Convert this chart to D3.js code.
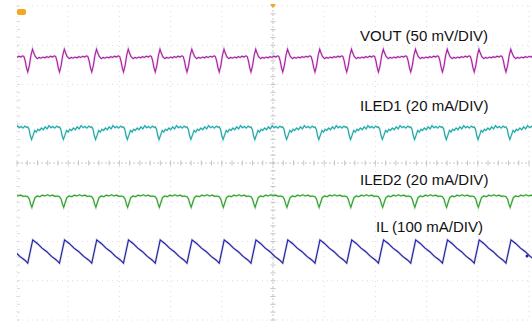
<!DOCTYPE html>
<html><head><meta charset="utf-8">
<script src="https://cdn.jsdelivr.net/npm/d3@7"></script>
<style>html,body{margin:0;padding:0;background:#fff;}svg{display:block;}</style>
</head><body>
<svg id="c" width="532" height="322"></svg>
<script>
// ---- data (divisions) ----
const xTicks = [0,1,2,3,4,5,6,7,8,9,10];
const yTicks = [-4,-3,-2,-1,0,1,2,3,4];
// switching instants (IL valley / VOUT dip), in horizontal divisions
const switchTimes = [-0.41,0.21,0.83,1.46,2.08,2.70,3.32,3.95,4.57,5.19,5.82,6.44,7.06,7.69,8.31,8.93,9.55,10.18];
// one switching period of each trace: phase (0..1) and level (divisions)
const voutPhase = [0,0.05,0.10,0.15,0.19,0.24,0.30,0.36,0.42,0.48,0.54,0.60,0.66,0.72,0.78,0.84,0.88,0.92,0.96];
const voutLevel = [2.32,2.48,2.74,2.90,2.80,2.71,2.66,2.69,2.67,2.70,2.68,2.71,2.69,2.72,2.70,2.73,2.71,2.60,2.43];
const iled1Phase = [0,0.04,0.08,0.12,0.17,0.22,0.27,0.32,0.37,0.43,0.49,0.55,0.61,0.67,0.73,0.79,0.85,0.91,0.96];
const iled1Level = [0.92,0.86,0.70,0.60,0.71,0.83,0.79,0.86,0.83,0.89,0.85,0.92,0.87,0.95,0.90,0.93,0.89,0.94,0.91];
const iled2Phase = [0,0.05,0.09,0.13,0.18,0.23,0.30,0.38,0.46,0.54,0.62,0.70,0.78,0.86,0.93];
const iled2Level = [-0.86,-0.92,-1.04,-1.13,-1.00,-0.88,-0.84,-0.86,-0.82,-0.84,-0.81,-0.84,-0.82,-0.85,-0.84];
const ilPhase = [0,0.157,0.30,0.45,0.60,0.75,0.90];
const ilLevel = [-2.55,-1.96,-2.05,-2.17,-2.26,-2.38,-2.47];
const labels = ["VOUT (50 mV/DIV)","ILED1 (20 mA/DIV)","ILED2 (20 mA/DIV)","IL (100 mA/DIV)"];

const svg = d3.select("#c");
const x = d3.scaleLinear().domain([0,10]).range([17,529]);
const y = d3.scaleLinear().domain([-4,4]).range([320,6]);

// grid
const g = svg.append("g");
g.selectAll(".vg").data(xTicks).enter().append("line")
 .attr("x1",d=>x(d)).attr("x2",d=>x(d)).attr("y1",y(4)).attr("y2",y(-4))
 .attr("stroke",d=>d===5?"#c8c8c8":"#dedede").attr("stroke-width",1)
 .attr("stroke-dasharray",d=>d===5?"2,2":"1,4");
g.selectAll(".hg").data(yTicks).enter().append("line")
 .attr("y1",d=>y(d)).attr("y2",d=>y(d)).attr("x1",x(0)).attr("x2",x(10))
 .attr("stroke",d=>d===0?"#c8c8c8":"#dedede").attr("stroke-width",1)
 .attr("stroke-dasharray",d=>d===0?"2,2":"1,4");
// minor ticks on centre lines and left edge
const minorX = d3.range(0,10.01,0.2), minorY = d3.range(-4,4.01,0.2);
g.selectAll(".mx").data(minorX).enter().append("line")
 .attr("x1",d=>x(d)).attr("x2",d=>x(d)).attr("y1",y(0)-2.5).attr("y2",y(0)+2.5)
 .attr("stroke","#c4c4c4");
g.selectAll(".my").data(minorY).enter().append("line")
 .attr("y1",d=>y(d)).attr("y2",d=>y(d)).attr("x1",x(5)-2.5).attr("x2",x(5)+2.5)
 .attr("stroke","#c4c4c4");
g.selectAll(".ml").data(minorY).enter().append("line")
 .attr("y1",d=>y(d)).attr("y2",d=>y(d)).attr("x1",x(0)).attr("x2",x(0)+3)
 .attr("stroke","#dadada");

// traces
svg.append("clipPath").attr("id","cp").append("rect")
 .attr("x",x(0)).attr("y",0).attr("width",x(10)-x(0)+3).attr("height",322);
function build(phase, level){
  const pts=[];
  for(let k=0;k<switchTimes.length;k++){
    const t=switchTimes[k];
    const P=(k+1<switchTimes.length?switchTimes[k+1]:t+0.62)-t;
    for(let i=0;i<phase.length;i++) pts.push([t+phase[i]*P, level[i]]);
  }
  return pts;
}
const line = d3.line().x(d=>x(d[0])).y(d=>y(d[1]));
const traces = [
  {p:voutPhase,l:voutLevel,c:"#a3219f",h:"#e3a3e0"},
  {p:iled1Phase,l:iled1Level,c:"#22a3a3",h:"#9fe0e0"},
  {p:iled2Phase,l:iled2Level,c:"#2e9f2a",h:"#a6dca3"},
  {p:ilPhase,l:ilLevel,c:"#20209c",h:"#9c9ce0"}
];
const tg = svg.append("g").attr("clip-path","url(#cp)");
traces.forEach(tr=>{
  const d = line(build(tr.p,tr.l));
  tg.append("path").attr("d",d).attr("fill","none").attr("stroke",tr.h).attr("stroke-width",2.4).attr("stroke-opacity",0.45);
  tg.append("path").attr("d",d).attr("fill","none").attr("stroke",tr.c).attr("stroke-width",1.1);
});

// labels
const lx=[360,360,360,376], ly=[41,111,185,232];
svg.selectAll(".lab").data(labels).enter().append("text")
 .attr("x",(d,i)=>lx[i]).attr("y",(d,i)=>ly[i])
 .attr("font-family","'Liberation Sans',Arial,sans-serif").attr("font-size",15)
 .attr("fill","#111").text(d=>d);

// markers
svg.append("rect").attr("x",17).attr("y",9).attr("width",9).attr("height",6).attr("rx",2).attr("fill","#f5a623");
svg.append("path").attr("d",`M${x(5)-3},${y(4)-2}L${x(5)+3},${y(4)-2}L${x(5)},${y(4)+2}Z`).attr("fill","#f5a623");
svg.append("circle").attr("cx",527).attr("cy",256).attr("r",1.5).attr("fill","#20209c");
</script>
</body></html>
